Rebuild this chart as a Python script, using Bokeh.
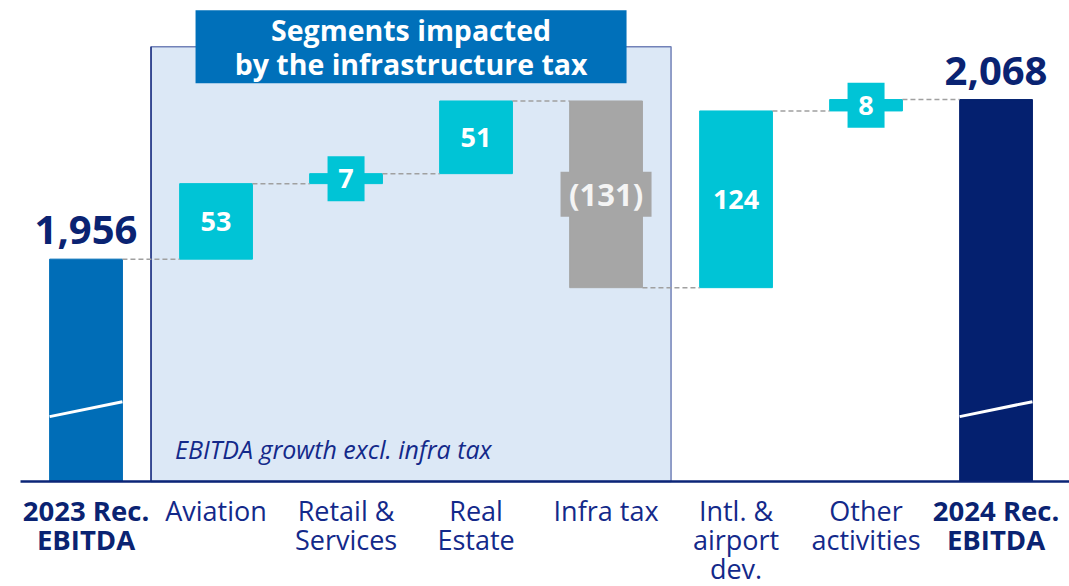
import numpy as np
from bokeh.plotting import figure
from bokeh.models import Range1d, ColumnDataSource
from bokeh.core.properties import value
from bokeh.embed import file_html
from bokeh.resources import INLINE

# ---------------- data ----------------
categories = ["2023 Rec.\nEBITDA", "Aviation", "Retail &\nServices", "Real\nEstate",
              "Infra tax", "Intl. &\nairport\ndev.", "Other\nactivities", "2024 Rec.\nEBITDA"]
start_total = 1956
changes = [53, 7, 51, -131, 124, 8]
end_total = 2068
change_labels = ["53", "7", "51", "(131)", "124", "8"]
total_labels = ["1,956", "2,068"]
title_text = "Segments impacted\nby the infrastructure tax"
note_text = "EBITDA growth excl. infra tax"

# ---------------- style ----------------
AXIS_BASE = 1800          # floor of the broken value axis
REGION_TOP = 2105         # top of the highlighted region
BAR_W = 0.56
C_START = "#006DB7"
C_END = "#04206F"
C_UP = "#00C4D6"
C_DOWN = "#A6A6A6"
NAVY = "#0A2372"
LABEL_C = "#13298A"
FONT = "Open Sans"

n = len(categories)
xs = np.arange(n)
chg = np.array(changes, dtype=float)
after = start_total + np.cumsum(chg)
before = np.concatenate([[start_total], after[:-1]])
cx = xs[1:-1]
bottoms = np.minimum(before, after)
tops = np.maximum(before, after)
colors = [C_UP if c > 0 else C_DOWN for c in chg]

p = figure(width=1069, height=586, x_range=Range1d(-0.658, 7.565),
           y_range=Range1d(1726.3, 2137.5), x_axis_type=None, y_axis_type=None,
           toolbar_location=None, output_backend="svg", min_border=0,
           outline_line_color=None, background_fill_color="white")
p.grid.visible = False

# highlighted region (segments impacted by the infra tax)
p.quad(left=[0.5], right=[4.5], bottom=[AXIS_BASE], top=[REGION_TOP],
       fill_color="#DCE8F6", line_color="#7282B8", line_width=1.5)
p.segment(x0=[0.5], x1=[0.5], y0=[AXIS_BASE], y1=[REGION_TOP], line_color="#1F3383", line_width=1.5)

# title box
p.rect(x=[2.5], y=[REGION_TOP], width=431, height=73, width_units="screen",
       height_units="screen", fill_color="#0070BA", line_color=None)

# total bars
p.vbar(x=[xs[0], xs[-1]], width=BAR_W, bottom=AXIS_BASE, top=[start_total, end_total],
       color=[C_START, C_END])
# change bars
p.vbar(x=cx, width=BAR_W, bottom=bottoms, top=tops, color=colors)

# axis-break marks
p.segment(x0=[xs[0] - BAR_W / 2, xs[-1] - BAR_W / 2], x1=[xs[0] + BAR_W / 2, xs[-1] + BAR_W / 2],
          y0=[AXIS_BASE + 45.5] * 2, y1=[AXIS_BASE + 56] * 2, line_color="white", line_width=3)

# connectors
levels = np.concatenate([[start_total], after])
p.segment(x0=xs[:-1] + BAR_W / 2, x1=xs[1:] - BAR_W / 2, y0=levels, y1=levels,
          line_color="#A0A0A0", line_width=1.5, line_dash="5 3")

# axis line
p.segment(x0=[-0.504], x1=[7.6], y0=[AXIS_BASE], y1=[AXIS_BASE], line_color="#0B2577", line_width=2.5)

# label boxes for small / negative changes
mids = (bottoms + tops) / 2
small = np.abs(chg) < 20
p.rect(x=cx[small], y=mids[small], width=37, height=45, width_units="screen",
       height_units="screen", fill_color=C_UP, line_color=None)
neg = chg < 0
p.rect(x=cx[neg], y=mids[neg], width=91, height=45, width_units="screen",
       height_units="screen", fill_color=C_DOWN, line_color=None)

# change value labels
pos_src = ColumnDataSource(dict(x=cx[~neg], y=mids[~neg],
                                t=[l for l, ng in zip(change_labels, neg) if not ng]))
p.text(x="x", y="y", text="t", source=pos_src, text_align="center", text_baseline="middle",
       text_color="white", text_font=value(FONT), text_font_style="bold", text_font_size="27px")
neg_src = ColumnDataSource(dict(x=cx[neg], y=mids[neg],
                                t=[l for l, ng in zip(change_labels, neg) if ng]))
p.text(x="x", y="y", text="t", source=neg_src, text_align="center", text_baseline="middle",
       text_color="#F4F4F4", text_font=value(FONT), text_font_style="bold", text_font_size="31px")

# total value labels
p.text(x=[xs[0], xs[-1]], y=[start_total, end_total], text=total_labels, y_offset=-29,
       text_align="center", text_baseline="middle", text_color=NAVY,
       text_font=value(FONT), text_font_style="bold", text_font_size="40px")

# title text
p.text(x=[2.5], y=[REGION_TOP], text=[title_text], text_align="center", text_baseline="middle",
       text_color="white", text_font=value(FONT), text_font_style="bold",
       text_font_size="28.5px", text_line_height=0.88)

# note inside region
p.text(x=[0.5], y=[AXIS_BASE], text=[note_text], x_offset=24, y_offset=-32,
       text_align="left", text_baseline="middle", text_color=LABEL_C,
       text_font=value(FONT), text_font_style="italic", text_font_size="25px")

# category labels
reg = list(range(1, n - 1))
p.text(x=xs[reg], y=[AXIS_BASE] * len(reg), text=[categories[i] for i in reg], y_offset=11,
       text_align="center", text_baseline="top", text_color=LABEL_C,
       text_font=value(FONT), text_font_size="27px", text_line_height=0.78)
p.text(x=[xs[0], xs[-1]], y=[AXIS_BASE] * 2, text=[categories[0], categories[-1]], y_offset=11,
       text_align="center", text_baseline="top", text_color=NAVY,
       text_font=value(FONT), text_font_style="bold", text_font_size="27.5px", text_line_height=0.78)

open("out.html", "w").write(file_html(p, INLINE))
